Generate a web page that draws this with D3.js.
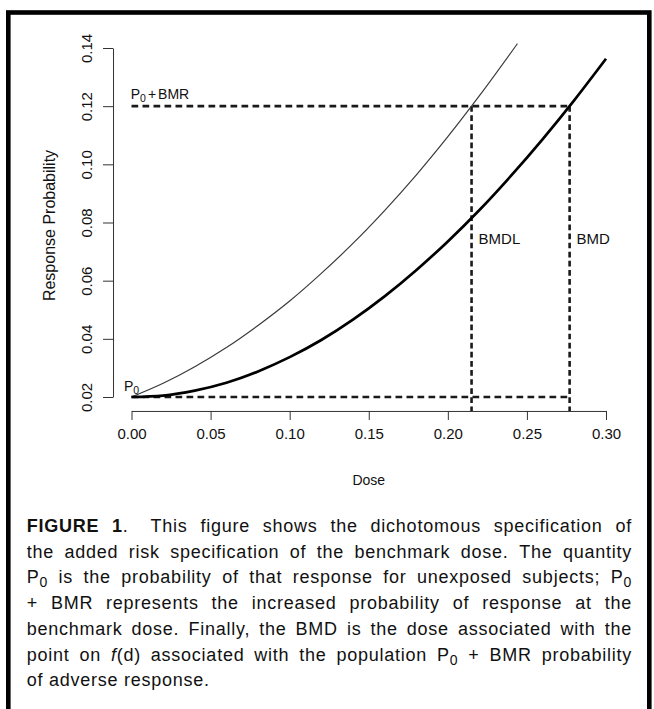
<!DOCTYPE html>
<html>
<head>
<meta charset="utf-8">
<script src="https://cdn.jsdelivr.net/npm/d3@7"></script>
<style>
  html, body { margin: 0; padding: 0; background: #fff; }
  svg { display: block; }
  text { font-family: "Liberation Sans", Arial, Helvetica, sans-serif; fill: #111; }
</style>
</head>
<body>
<div id="fig"></div>
<script>
const width = 654;
const height = 709;

// axis ticks
const doseTicks = [0, 0.05, 0.10, 0.15, 0.20, 0.25, 0.30];
const probTicks = [0.02, 0.04, 0.06, 0.08, 0.10, 0.12, 0.14];

// thin curve (lower bound model)
const thinDose = [0, 0.02, 0.04, 0.06, 0.08, 0.10, 0.12, 0.14, 0.16, 0.18, 0.20, 0.22, 0.244];
const thinProb = [0.020, 0.0247, 0.0304, 0.0370, 0.0446, 0.0530, 0.0625, 0.0728, 0.0841, 0.0963, 0.1095, 0.1236, 0.1415];

// thick curve (fitted model)
const thickDose = [0, 0.02, 0.04, 0.06, 0.08, 0.10, 0.12, 0.14, 0.16, 0.18, 0.20, 0.22, 0.24, 0.26, 0.28, 0.30];
const thickProb = [0.020, 0.0205, 0.0222, 0.0249, 0.0288, 0.0337, 0.0396, 0.0466, 0.0546, 0.0636, 0.0735, 0.0843, 0.0961, 0.1087, 0.1221, 0.1363];

// reference levels
const P0 = 0.02;
const P0_BMR = 0.12;
const BMDL = 0.215;
const BMD = 0.277;

// caption lines, words split by spaces; "b:" bold, "i:" italic, "_" subscript, "|" joins segments
const captionLines = [
    ["b:FIGURE", "b:1|.", "This", "figure", "shows", "the", "dichotomous", "specification", "of"],
    "the added risk specification of the benchmark dose. The quantity".split(" "),
    ["P|_0", "is", "the", "probability", "of", "that", "response", "for", "unexposed", "subjects;", "P|_0"],
    ["+", "BMR", "represents", "the", "increased", "probability", "of", "response", "at", "the"],
    "benchmark dose. Finally, the BMD is the dose associated with the".split(" "),
    ["point", "on", "i:f|(d)", "associated", "with", "the", "population", "P|_0", "+", "BMR", "probability"],
    ["of", "adverse", "response."]
];

let svg = d3.select("#fig")
    .append("svg")
    .attr("width", width)
    .attr("height", height);

// frame
svg.append("rect")
    .attr("x", 8.3).attr("y", 12.5)
    .attr("width", 641).attr("height", 720)
    .attr("fill", "none")
    .attr("stroke", "#000")
    .attr("stroke-width", 4.6);

let x = d3.scaleLinear().domain([0, 0.30]).range([131.5, 606]);
let y = d3.scaleLinear().domain([0.02, 0.14]).range([397, 48]);

// R style: axes sit 4% outside the data range
const xAxisY = y(0.02 - 0.04 * 0.12);
const yAxisX = x(0 - 0.04 * 0.30) + 0.5;

let xAxis = svg.append("g")
    .attr("transform", "translate(0," + xAxisY + ")")
    .call(d3.axisBottom(x).tickValues(doseTicks).tickFormat(d3.format(".2f")).tickSizeInner(9).tickSizeOuter(0).tickPadding(8));
xAxis.select(".domain").attr("stroke", "#333");
xAxis.selectAll(".tick line").attr("stroke", "#333");
xAxis.selectAll("text")
    .attr("font-size", 15)
    .attr("font-family", "Liberation Sans, Arial, sans-serif")
    .attr("fill", "#111");

let yAxis = svg.append("g")
    .attr("transform", "translate(" + yAxisX + ",0)")
    .call(d3.axisLeft(y).tickValues(probTicks).tickFormat(d3.format(".2f")).tickSizeInner(10).tickSizeOuter(0));
yAxis.select(".domain").attr("stroke", "#333");
yAxis.selectAll(".tick line").attr("stroke", "#333");
yAxis.selectAll("text")
    .attr("font-size", 15)
    .attr("font-family", "Liberation Sans, Arial, sans-serif")
    .attr("fill", "#111")
    .attr("x", 0).attr("y", 0).attr("dy", null)
    .attr("text-anchor", "middle")
    .attr("transform", "translate(" + (91.7 - yAxisX) + ",0) rotate(-90)");

// axis titles
svg.append("text")
    .attr("x", x(0.15)).attr("y", 485)
    .attr("text-anchor", "middle")
    .attr("font-size", 14)
    .text("Dose");

svg.append("text")
    .attr("transform", "translate(54.5," + (y(0.08) + 3) + ") rotate(-90)")
    .attr("text-anchor", "middle")
    .attr("font-size", 16)
    .text("Response Probability");

// reference dashed lines
let hLines = [[0, P0_BMR, BMD, P0_BMR], [0, P0, BMD, P0]];
svg.append("g").selectAll("line")
    .data(hLines)
    .enter()
    .append("line")
    .attr("x1", d => x(d[0])).attr("y1", d => y(d[1]))
    .attr("x2", d => x(d[2])).attr("y2", d => y(d[3]))
    .attr("stroke", "#1a1a1a")
    .attr("stroke-width", 2.6)
    .attr("stroke-dasharray", "6.7,4.3");

let vLines = [BMDL, BMD];
svg.append("g").selectAll("line")
    .data(vLines)
    .enter()
    .append("line")
    .attr("x1", d => x(d)).attr("y1", y(P0_BMR))
    .attr("x2", d => x(d)).attr("y2", xAxisY)
    .attr("stroke", "#1a1a1a")
    .attr("stroke-width", 2.6)
    .attr("stroke-dasharray", "5.7,3.4");

// curves
let line = d3.line()
    .x(d => x(d[0]))
    .y(d => y(d[1]))
    .curve(d3.curveMonotoneX);

svg.append("path")
    .attr("d", line(d3.zip(thinDose, thinProb)))
    .attr("fill", "none")
    .attr("stroke", "#3a3a3a")
    .attr("stroke-width", 1.2);

svg.append("path")
    .attr("d", line(d3.zip(thickDose, thickProb)))
    .attr("fill", "none")
    .attr("stroke", "#000")
    .attr("stroke-width", 2.7);

// plot labels
let lab1 = svg.append("text").attr("x", x(0) - 0.8).attr("y", y(P0_BMR) - 7).attr("font-size", 14);
lab1.append("tspan").text("P");
lab1.append("tspan").attr("font-size", 10.5).attr("dy", 3).text("0");
lab1.append("tspan").attr("dy", -3).attr("dx", 2).text("+");
lab1.append("tspan").attr("dx", 2).text("BMR");

let lab2 = svg.append("text").attr("x", x(0) - 7.5).attr("y", y(P0) - 6).attr("font-size", 14);
lab2.append("tspan").text("P");
lab2.append("tspan").attr("font-size", 10.5).attr("dy", 3).text("0");

svg.append("text").attr("x", x(BMDL) + 7).attr("y", 244.3).attr("font-size", 15).text("BMDL");
svg.append("text").attr("x", x(BMD) + 7).attr("y", 244.3).attr("font-size", 15).text("BMD");

// caption, justified word by word
const capLeft = 26.7;
const capRight = 632;
const capTop = 532;
const capLead = 25.7;
const capSize = 18;
const capTrack = 0.75;

captionLines.forEach(function (words, i) {
    let ly = capTop + i * capLead;
    let t = svg.append("text")
        .attr("font-size", capSize)
        .attr("letter-spacing", capTrack)
        .attr("fill", "#111");
    let spans = words.map(function (w) {
        let ws = t.append("tspan").attr("y", ly);
        let shifted = false;
        w.split("|").forEach(function (seg) {
            let s = ws.append("tspan");
            if (seg.startsWith("b:")) { s.attr("font-weight", "bold"); seg = seg.slice(2); }
            else if (seg.startsWith("i:")) { s.attr("font-style", "italic"); seg = seg.slice(2); }
            if (seg.startsWith("_")) {
                s.attr("font-size", capSize * 0.78).attr("dy", 4);
                shifted = true;
                seg = seg.slice(1);
            } else if (shifted) {
                s.attr("dy", -4);
                shifted = false;
            }
            s.text(seg);
        });
        return ws;
    });
    let widths = spans.map(s => s.node().getComputedTextLength());
    let total = d3.sum(widths);
    let extra = i === 0 ? 9 : 0;
    let last = i === captionLines.length - 1;
    let gap = last ? capSize * 0.278 + capTrack : (capRight - capLeft - total - extra) / (words.length - 1);
    let cx = capLeft;
    spans.forEach(function (s, j) {
        s.attr("x", cx);
        cx += widths[j] + gap + (i === 0 && j === 1 ? extra : 0);
    });
});
</script>
</body>
</html>
